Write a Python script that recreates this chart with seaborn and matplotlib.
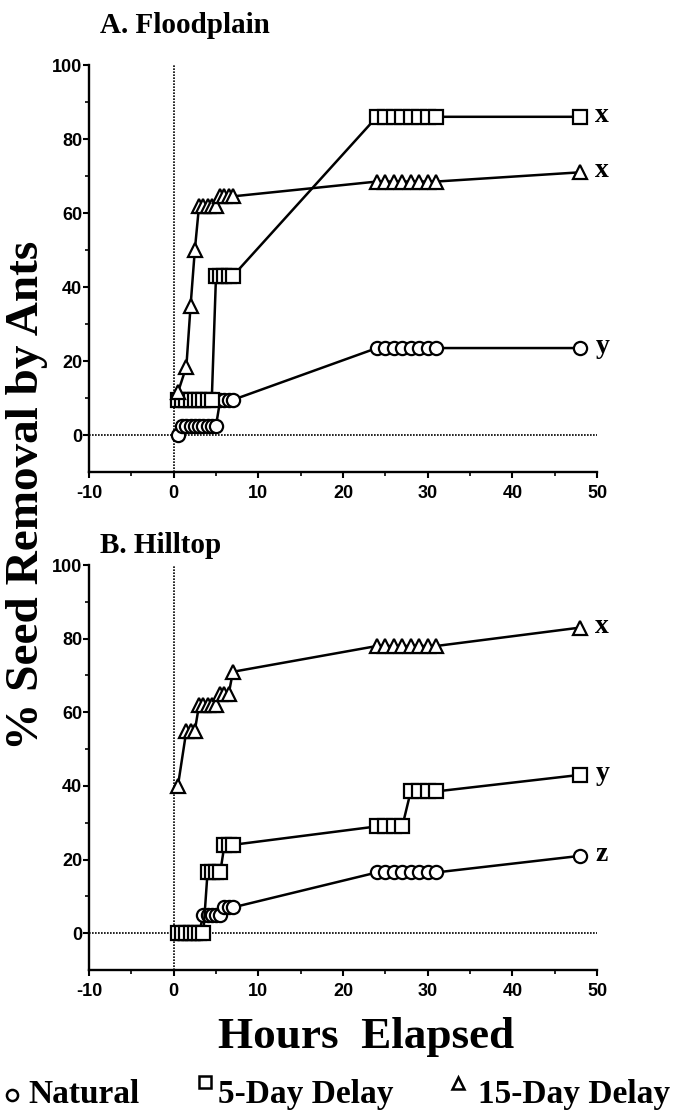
import numpy as np
import pandas as pd
import matplotlib
matplotlib.use("Agg")
import matplotlib.pyplot as plt
from matplotlib.lines import Line2D
import seaborn as sns

sns.set_theme(style="ticks")
plt.rcParams["font.family"] = ["Liberation Sans", "DejaVu Sans"]
plt.rcParams["text.color"] = "black"
plt.rcParams["axes.labelcolor"] = "black"
plt.rcParams["xtick.color"] = "black"
plt.rcParams["ytick.color"] = "black"
plt.rcParams["axes.unicode_minus"] = False

# ---------------- data ----------------
early = [0.5, 1, 1.5, 2, 2.5, 3, 3.5, 4, 4.5, 5, 5.5, 6, 6.5, 7]
late = [24, 25, 26, 27, 28, 29, 30, 31]
final = [48]

# A. Floodplain
a_nat_hours = early + late + final
a_nat_vals = [0, 2.5, 2.5, 2.5, 2.5, 2.5, 2.5, 2.5, 2.5, 2.5, 9.5, 9.5, 9.5, 9.5,
              23.5, 23.5, 23.5, 23.5, 23.5, 23.5, 23.5, 23.5, 23.5]
a_d5_hours = early + late + final
a_d5_vals = [9.5, 9.5, 9.5, 9.5, 9.5, 9.5, 9.5, 9.5, 9.5, 43, 43, 43, 43, 43,
             86, 86, 86, 86, 86, 86, 86, 86, 86]
a_d15_hours = [0.5, 1.5, 2, 2.5, 3, 3.5, 4, 4.5, 5, 5.5, 6, 6.5, 7] + late + final
a_d15_vals = [11.5, 18.5, 35, 50, 62, 62, 62, 62, 62, 64.5, 64.5, 64.5, 64.5,
              68.5, 68.5, 68.5, 68.5, 68.5, 68.5, 68.5, 68.5, 71]

# B. Hilltop
b_nat_hours = early + late + final
b_nat_vals = [0, 0, 0, 0, 0, 0, 5, 5, 5, 5, 5, 7, 7, 7,
              16.5, 16.5, 16.5, 16.5, 16.5, 16.5, 16.5, 16.5, 21]
b_d5_hours = early + late + final
b_d5_vals = [0, 0, 0, 0, 0, 0, 0, 16.5, 16.5, 16.5, 16.5, 24, 24, 24,
             29, 29, 29, 29, 38.5, 38.5, 38.5, 38.5, 43]
b_d15_hours = [0.5, 1.5, 2, 2.5, 3, 3.5, 4, 4.5, 5, 5.5, 6, 6.5, 7] + late + final
b_d15_vals = [40, 55, 55, 55, 62, 62, 62, 62, 62, 65, 65, 65, 71,
              78, 78, 78, 78, 78, 78, 78, 78, 83]

panel_titles = ["A. Floodplain", "B. Hilltop"]
a_letters = {"5-Day Delay": "x", "15-Day Delay": "x", "Natural": "y"}
b_letters = {"15-Day Delay": "x", "5-Day Delay": "y", "Natural": "z"}
xticks = [-10, 0, 10, 20, 30, 40, 50]
yticks = [0, 20, 40, 60, 80, 100]
legend_names = ["Natural", "5-Day Delay", "15-Day Delay"]

markers = {"Natural": "o", "5-Day Delay": "s", "15-Day Delay": "^"}

W, H = 677, 1112
fig = plt.figure(figsize=(W / 100, H / 100), dpi=100)


def fx(px):
    return px / W


def fy(py):
    return 1 - py / H


axA = fig.add_axes([fx(89), fy(472), fx(597 - 89), (472 - 65) / H])
axB = fig.add_axes([fx(89), fy(970), fx(597 - 89), (970 - 565) / H])

serif = ["Liberation Serif", "DejaVu Serif"]

panels = [
    (axA, [("Natural", a_nat_hours, a_nat_vals), ("5-Day Delay", a_d5_hours, a_d5_vals),
           ("15-Day Delay", a_d15_hours, a_d15_vals)], a_letters),
    (axB, [("Natural", b_nat_hours, b_nat_vals), ("5-Day Delay", b_d5_hours, b_d5_vals),
           ("15-Day Delay", b_d15_hours, b_d15_vals)], b_letters),
]

for ax, series, letters in panels:
    ax.axhline(0, color="black", lw=1.2, ls=(0, (1, 0.8)), zorder=1)
    ax.axvline(0, color="black", lw=1.2, ls=(0, (1, 0.8)), zorder=1)
    for name, hrs, vals in series:
        df = pd.DataFrame({"hours": hrs, "removal": vals})
        sns.lineplot(data=df, x="hours", y="removal", ax=ax, color="black",
                     marker=markers[name], markersize=9.5, markerfacecolor="white",
                     markeredgecolor="black", markeredgewidth=1.6, lw=1.8,
                     estimator=None, sort=False, legend=False, zorder=3)
        ax.annotate(letters[name], xy=(hrs[-1], vals[-1]), xytext=(11, 1),
                    textcoords="offset points", ha="left", va="center",
                    fontsize=20, family=serif, fontweight="bold")
    ax.set_xlim(-10, 50)
    ax.set_ylim(-10, 100)
    ax.set_xticks(xticks)
    ax.set_xticks([-5, 5, 15, 25, 35, 45], minor=True)
    ax.set_yticks(yticks)
    ax.set_yticks([10, 30, 50, 70, 90], minor=True)
    ax.set_xlabel("")
    ax.set_ylabel("")
    for s in ["top", "right"]:
        ax.spines[s].set_visible(False)
    for s in ["left", "bottom"]:
        ax.spines[s].set_linewidth(1.7)
        ax.spines[s].set_color("black")
    ax.tick_params(axis="both", which="major", direction="out", length=4, width=1.5,
                   colors="black", labelsize=13)
    ax.tick_params(axis="both", which="minor", direction="out", length=3, width=1.2,
                   colors="black")
    ax.tick_params(axis="x", which="major", pad=5)
    ax.tick_params(axis="y", which="major", pad=1)
    for lab in ax.get_xticklabels() + ax.get_yticklabels():
        lab.set_fontweight("bold")

fig.text(fx(100), fy(33), panel_titles[0], ha="left", va="baseline", fontsize=21,
         family=serif, fontweight="bold")
fig.text(fx(100), fy(553), panel_titles[1], ha="left", va="baseline", fontsize=21,
         family=serif, fontweight="bold")

fig.text(fx(27), fy(495), "% Seed Removal by Ants", rotation=90, ha="center",
         va="center", fontsize=34, family=serif, fontweight="bold")
fig.text(fx(366), fy(1048), "Hours  Elapsed", ha="center", va="baseline",
         fontsize=32.5, family=serif, fontweight="bold")

# legend
leg_marker_xy = [(12, 1095), (205, 1082), (458, 1083)]
leg_marker_ms = [8, 8.5, 8.5]
leg_text_x = [28, 218, 478]
for name, (mx, my), ms, tx in zip(legend_names, leg_marker_xy, leg_marker_ms, leg_text_x):
    fig.add_artist(Line2D([fx(mx)], [fy(my)], transform=fig.transFigure,
                          marker=markers[name], ms=ms, mfc="white", mec="black",
                          mew=1.8, ls="none"))
    fig.text(fx(tx), fy(1103), name, ha="left", va="baseline", fontsize=24,
             family=serif, fontweight="bold")

fig.savefig("out.png", dpi=100)
